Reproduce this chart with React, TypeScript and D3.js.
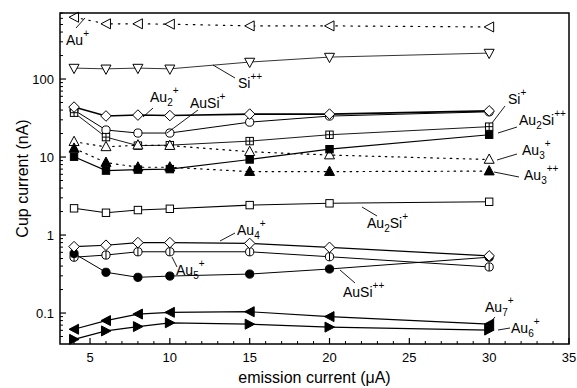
import React from 'react';
import * as d3 from 'd3';

// Emission current values (µA) shared by every ion series
const emission = [4, 6, 8, 10, 15, 20, 30];

// Cup current (nA) per ion species
const auPlus = [620, 510, 510, 505, 480, 480, 465];
const siPP = [138, 135, 138, 135, 165, 191, 215];
const au2Plus = [43.7, 33.6, 34.5, 34, 35.5, 35.5, 39];
const auSiPlus = [40, 22.2, 20.3, 20.3, 28, 33.5, 38];
const siPlus = [37, 18, 14, 14.2, 16, 19.3, 24.5];
const au3Plus = [15.7, 13.5, 14.2, 14, 11.7, 10.6, 9.3];
const au3PP = [12.9, 8.5, 7.4, 7.4, 6.5, 6.5, 6.6];
const au2SiPP = [10.1, 6.7, 6.9, 7, 9.3, 12.6, 19.3];
const au2SiPlus = [2.2, 1.93, 2.09, 2.17, 2.42, 2.55, 2.67];
const au4Plus = [0.71, 0.74, 0.8, 0.8, 0.78, 0.695, 0.54];
const au5Plus = [0.52, 0.554, 0.61, 0.61, 0.61, 0.527, 0.39];
const auSiPP = [0.58, 0.333, 0.287, 0.298, 0.316, 0.367, 0.52];
const au7Plus = [0.062, 0.08, 0.097, 0.102, 0.104, 0.09, 0.072];
const au6Plus = [0.046, 0.059, 0.067, 0.075, 0.072, 0.066, 0.0605];

const xTicks = [5, 10, 15, 20, 25, 30, 35];
const yTicks = [0.1, 1, 10, 100];
const yTickLabels = ['0.1', '1', '10', '100'];

type Marker =
  | 'triL' | 'triR' | 'triU' | 'triD' | 'diamond' | 'circle'
  | 'square' | 'squareCross' | 'circleBar';

interface Series {
  values: number[];
  marker: Marker;
  filled: boolean;
  dash?: string;
  width: number;
}

// Drawing order: later series sit on top where markers overlap
const series: Series[] = [
  { values: auPlus, marker: 'triL', filled: false, dash: '1.5 6', width: 1.2 },
  { values: siPP, marker: 'triD', filled: false, width: 0.8 },
  { values: auSiPlus, marker: 'circle', filled: false, width: 1 },
  { values: siPlus, marker: 'squareCross', filled: false, width: 0.9 },
  { values: au2Plus, marker: 'diamond', filled: false, width: 1.6 },
  { values: au3Plus, marker: 'triU', filled: false, dash: '1.5 5', width: 1.2 },
  { values: au3PP, marker: 'triU', filled: true, dash: '1.5 5', width: 1.2 },
  { values: au2SiPP, marker: 'square', filled: true, width: 1.2 },
  { values: au2SiPlus, marker: 'square', filled: false, width: 1.1 },
  { values: au5Plus, marker: 'circleBar', filled: false, width: 1 },
  { values: auSiPP, marker: 'circle', filled: true, width: 1 },
  { values: au4Plus, marker: 'diamond', filled: false, width: 1.2 },
  { values: au7Plus, marker: 'triL', filled: true, width: 1.2 },
  { values: au6Plus, marker: 'triR', filled: true, width: 1.2 },
];

// Ion labels: text parts (0 = normal, -1 = subscript, 1 = superscript)
type Part = [string, number];
interface Note {
  parts: Part[];
  tx: number;
  ty: number;
  leader: [number, number, number, number];
}

const notes: Note[] = [
  { parts: [['Au', 0], ['+', 1]], tx: 66, ty: 45, leader: [76, 28, 85, 18] },
  { parts: [['Si', 0], ['++', 1]], tx: 238, ty: 88, leader: [213, 65, 235, 78] },
  { parts: [['Au', 0], ['2', -1], ['+', 1]], tx: 150, ty: 102, leader: [143, 117, 153, 108] },
  { parts: [['AuSi', 0], ['+', 1]], tx: 190, ty: 108, leader: [167, 133, 198, 110] },
  { parts: [['Si', 0], ['+', 1]], tx: 508, ty: 104, leader: [492, 123, 505, 106] },
  { parts: [['Au', 0], ['2', -1], ['Si', 0], ['++', 1]], tx: 519, ty: 125, leader: [498, 133, 517, 127] },
  { parts: [['Au', 0], ['3', -1], ['+', 1]], tx: 522, ty: 155, leader: [497, 160, 517, 154] },
  { parts: [['Au', 0], ['3', -1], ['++', 1]], tx: 524, ty: 180, leader: [494, 172, 519, 177] },
  { parts: [['Au', 0], ['2', -1], ['Si', 0], ['+', 1]], tx: 367, ty: 228, leader: [362, 207, 377, 216] },
  { parts: [['Au', 0], ['4', -1], ['+', 1]], tx: 237, ty: 235, leader: [220, 241, 235, 233] },
  { parts: [['Au', 0], ['5', -1], ['+', 1]], tx: 176, ty: 275, leader: [172, 257, 177, 267] },
  { parts: [['AuSi', 0], ['++', 1]], tx: 343, ty: 297, leader: [340, 270, 355, 283] },
  { parts: [['Au', 0], ['7', -1], ['+', 1]], tx: 485, ty: 312, leader: [495, 317, 490, 323] },
  { parts: [['Au', 0], ['6', -1], ['+', 1]], tx: 511, ty: 333, leader: [498, 330, 510, 328] },
];

const W = 577;
const H = 388;
const plot = { left: 60, right: 569, top: 13, bottom: 344 };
const FONT = '"Liberation Sans", Arial, Helvetica, sans-serif';

function markerShape(m: Marker, fill: string) {
  const common = { fill, stroke: '#000', strokeWidth: 1 };
  switch (m) {
    case 'triL':
      return <path d="M-5,0L4.5,-5L4.5,5Z" {...common} />;
    case 'triR':
      return <path d="M5,0L-4.5,-5L-4.5,5Z" {...common} />;
    case 'triU':
      return <path d="M0,-5.5L5,3.8L-5,3.8Z" {...common} />;
    case 'triD':
      return <path d="M0,5.5L5,-3.8L-5,-3.8Z" {...common} />;
    case 'diamond':
      return <path d="M0,-5.3L5.3,0L0,5.3L-5.3,0Z" {...common} />;
    case 'circle':
      return <circle r={4.1} {...common} />;
    case 'square':
      return <rect x={-3.7} y={-3.7} width={7.4} height={7.4} {...common} />;
    case 'squareCross':
      return (
        <g>
          <rect x={-3.7} y={-3.7} width={7.4} height={7.4} {...common} />
          <path d="M-3.7,0H3.7M0,-3.7V3.7" stroke="#000" strokeWidth={1} />
        </g>
      );
    case 'circleBar':
      return (
        <g>
          <circle r={4.1} {...common} />
          <path d="M0,-4.1V4.1" stroke="#000" strokeWidth={1} />
        </g>
      );
  }
}

function RichText({ parts, x, y }: { parts: Part[]; x: number; y: number }) {
  let cur = 0;
  return (
    <text x={x} y={y} fontFamily={FONT} fontSize={14} fill="#000">
      {parts.map(([t, k], i) => {
        const target = k === -1 ? 4 : k === 1 ? -8 : 0;
        const dy = target - cur;
        cur = target;
        return (
          <tspan key={i} dy={dy} fontSize={k === 0 ? 14 : 10}>
            {t}
          </tspan>
        );
      })}
    </text>
  );
}

export default function App() {
  const x = d3.scaleLinear().domain([3.12, 35]).range([plot.left, plot.right]);
  const y = d3
    .scaleLog()
    .domain([0.0401, 702])
    .range([plot.bottom, plot.top]);

  const line = d3
    .line<[number, number]>()
    .x((d) => x(d[0]))
    .y((d) => y(d[1]));

  const xMinor = d3.range(4, 35).filter((v) => v % 5 !== 0);
  const yMinor: number[] = [];
  for (const dec of [0.01, 0.1, 1, 10, 100]) {
    for (let k = 2; k <= 9; k++) {
      const v = dec * k;
      if (v >= 0.0401 && v <= 702) yMinor.push(v);
    }
  }

  return (
    <svg
      width={W}
      height={H}
      style={{ position: 'absolute', left: 0, top: 0, background: '#fff' }}
    >
      <rect width={W} height={H} fill="#fff" />

      {/* series lines */}
      {series.map((s, i) => (
        <path
          key={'l' + i}
          d={line(emission.map((e, j) => [e, s.values[j]] as [number, number])) || ''}
          fill="none"
          stroke="#000"
          strokeWidth={s.width}
          strokeDasharray={s.dash}
          strokeLinecap={s.dash ? 'round' : 'butt'}
        />
      ))}

      {/* series markers */}
      {series.map((s, i) => (
        <g key={'m' + i}>
          {emission.map((e, j) => (
            <g key={j} transform={`translate(${x(e)},${y(s.values[j])})`}>
              {markerShape(s.marker, s.filled ? '#000' : '#fff')}
            </g>
          ))}
        </g>
      ))}

      {/* ion labels and leaders */}
      {notes.map((n, i) => (
        <g key={'n' + i}>
          <line
            x1={n.leader[0]}
            y1={n.leader[1]}
            x2={n.leader[2]}
            y2={n.leader[3]}
            stroke="#000"
            strokeWidth={0.9}
          />
          <RichText parts={n.parts} x={n.tx} y={n.ty} />
        </g>
      ))}

      {/* x ticks */}
      {xTicks.map((t) => (
        <g key={'xt' + t}>
          <line x1={x(t)} x2={x(t)} y1={plot.bottom} y2={plot.bottom - 6} stroke="#000" strokeWidth={1.2} />
          <text
            x={x(t)}
            y={plot.bottom + 18}
            textAnchor="middle"
            fontFamily={FONT}
            fontSize={13}
          >
            {t}
          </text>
        </g>
      ))}
      {xMinor.map((t) => (
        <line key={'xm' + t} x1={x(t)} x2={x(t)} y1={plot.bottom} y2={plot.bottom - 3} stroke="#000" strokeWidth={1} />
      ))}

      {/* y ticks */}
      {yTicks.map((t, i) => (
        <g key={'yt' + t}>
          <line x1={plot.left} x2={plot.left + 6} y1={y(t)} y2={y(t)} stroke="#000" strokeWidth={1.2} />
          <text
            x={plot.left - 6}
            y={y(t)}
            dy="0.35em"
            textAnchor="end"
            fontFamily={FONT}
            fontSize={13}
          >
            {yTickLabels[i]}
          </text>
        </g>
      ))}
      {yMinor.map((t) => (
        <line key={'ym' + t} x1={plot.left} x2={plot.left + 3} y1={y(t)} y2={y(t)} stroke="#000" strokeWidth={1} />
      ))}

      {/* frame */}
      <rect
        x={plot.left}
        y={plot.top}
        width={plot.right - plot.left}
        height={plot.bottom - plot.top}
        fill="none"
        stroke="#000"
        strokeWidth={1.5}
      />

      {/* axis titles */}
      <text
        x={(plot.left + plot.right) / 2}
        y={383}
        textAnchor="middle"
        fontFamily={FONT}
        fontSize={16}
      >
        emission current (μA)
      </text>
      <text
        transform={`translate(28,${(plot.top + plot.bottom) / 2}) rotate(-90)`}
        textAnchor="middle"
        fontFamily={FONT}
        fontSize={16}
      >
        Cup current (nA)
      </text>
    </svg>
  );
}
